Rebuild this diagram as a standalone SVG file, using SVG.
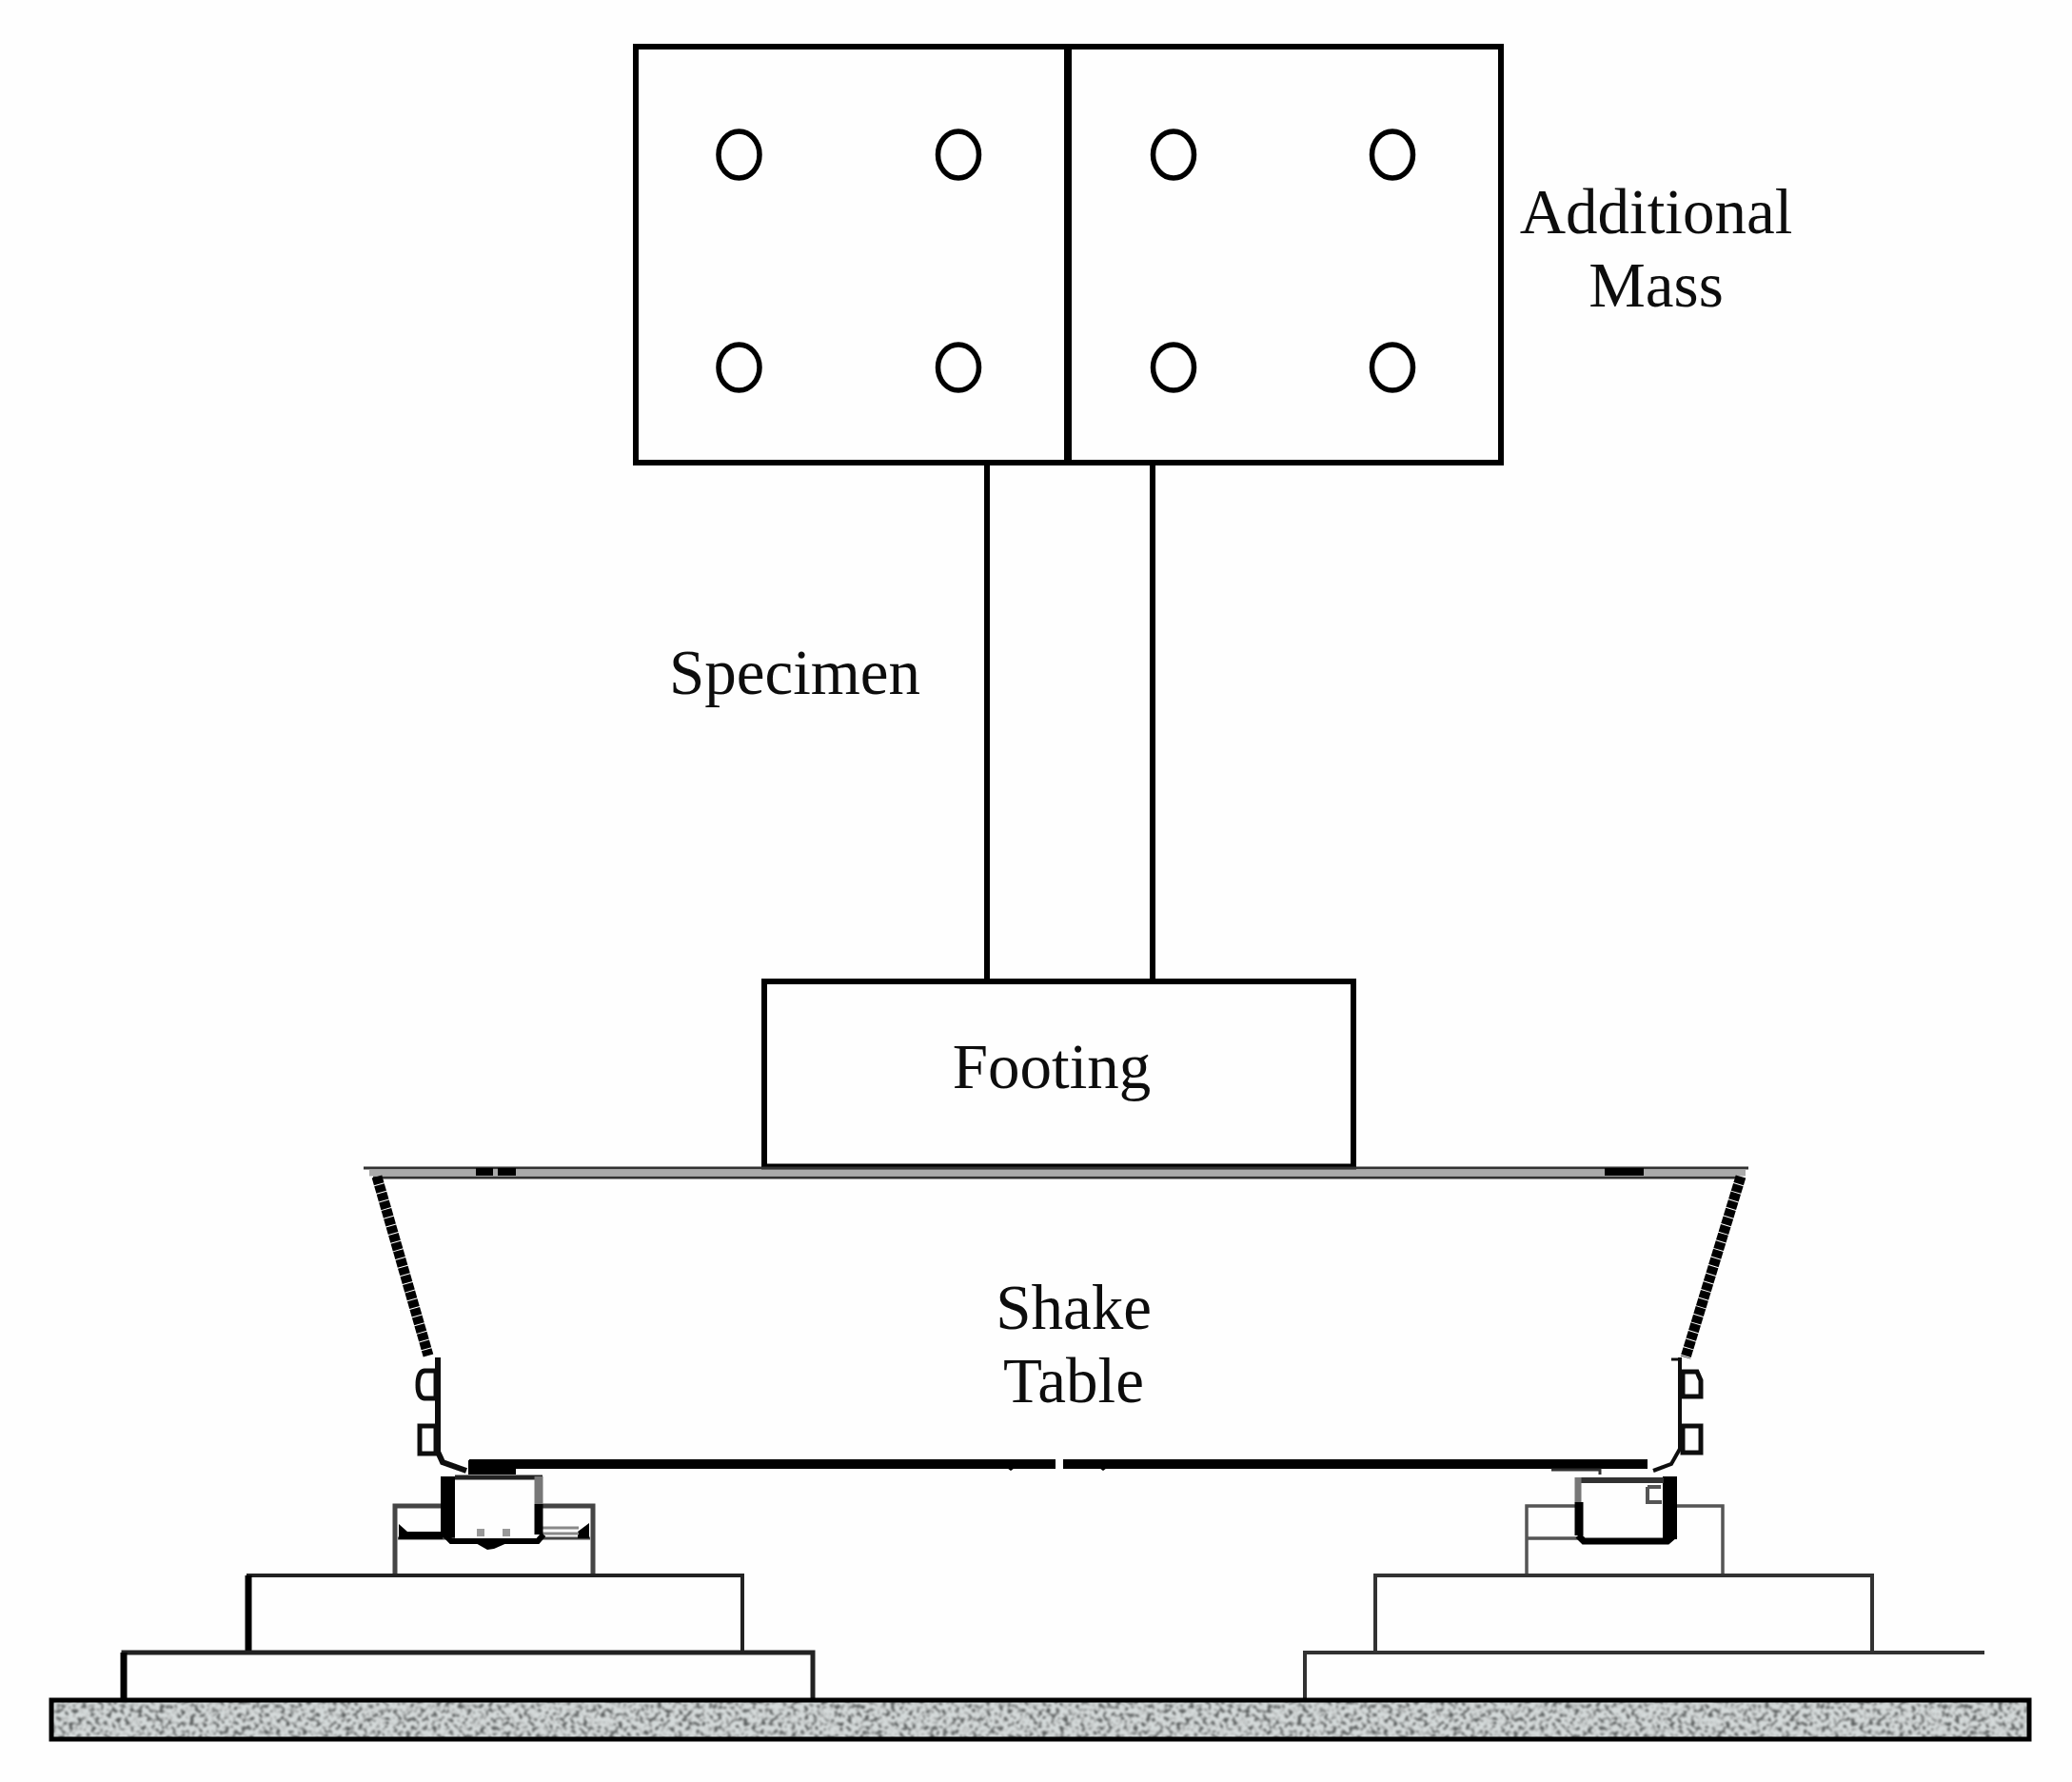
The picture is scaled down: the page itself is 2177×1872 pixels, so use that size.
<svg xmlns="http://www.w3.org/2000/svg" width="2177" height="1872" viewBox="0 0 2177 1872">
<style>
.l{fill:none;stroke:#000;stroke-width:6}
.t{fill:none;stroke:#444;stroke-width:5}
.g{fill:none;stroke:#333;stroke-width:3}
.k{fill:none;stroke:#000;stroke-linecap:butt}
.b{fill:#000}
.h{fill:none;stroke:#000;stroke-width:5.500}
text{font-family:"Liberation Serif","Times New Roman",serif;font-size:67px;fill:#111;text-anchor:middle}
</style>
<defs>
<filter id="grain" x="0" y="0" width="100%" height="100%" color-interpolation-filters="sRGB">
<feTurbulence type="fractalNoise" baseFrequency="0.22" numOctaves="3" seed="7"/>
<feColorMatrix type="matrix" values="0 0 0 0 0  0 0 0 0 0  0 0 0 0 0  3.500 0 0 0 -1.350" result="n"/>
<feFlood flood-color="#d4dada"/>
<feComposite in2="n" operator="out" result="light"/>
<feFlood flood-color="#5c6060"/>
<feComposite in2="n" operator="in"/>
<feComposite in="light" operator="over"/>
<feGaussianBlur stdDeviation="0.9"/>
</filter>
<filter id="soft" x="-2%" y="-2%" width="104%" height="104%"><feGaussianBlur stdDeviation="0.7"/></filter>
</defs>
<rect width="2177" height="1872" fill="#fefefe"/>
<g filter="url(#soft)">
<g id="connectors">
<path class="l" d="M1037 486V1030M1211 486V1030"/>
</g>
<g id="additional-mass">
<rect x="668" y="49" width="909" height="437" fill="none" stroke="#000" stroke-width="6"/>
<path d="M1122 49V486" fill="none" stroke="#000" stroke-width="8"/>
<g class="h">
<ellipse cx="776.500" cy="162.500" rx="21.500" ry="24.500"/><ellipse cx="1007" cy="162.500" rx="21.500" ry="24.500"/>
<ellipse cx="1233" cy="162.500" rx="21.500" ry="24.500"/><ellipse cx="1463" cy="162.500" rx="21.500" ry="24.500"/>
<ellipse cx="776.500" cy="386" rx="21.500" ry="24"/><ellipse cx="1007" cy="386" rx="21.500" ry="24"/>
<ellipse cx="1233" cy="386" rx="21.500" ry="24"/><ellipse cx="1463" cy="386" rx="21.500" ry="24"/>
</g>
<text x="1740" y="245">Additional</text>
<text x="1740" y="322">Mass</text>
</g>
<g id="specimen"><text x="835" y="729">Specimen</text></g>
<g id="footing">
<path d="M803 1229V1031H1422V1229" fill="none" stroke="#000" stroke-width="6"/>
<path d="M803 1226H1422" fill="none" stroke="#000" stroke-width="7"/>
<text x="1105" y="1143">Footing</text>
</g>
<g id="shake-table">
<path class="g" d="M382 1227H1837M392 1237H1826"/>
<path d="M388 1232H1834" fill="none" stroke="#aaa" stroke-width="7"/>
<path class="k" stroke-width="8" d="M500 1231H518M523 1231H542M1686 1231H1727"/>
<path class="k" stroke-width="11" stroke-dasharray="8 1" d="M396 1236L450 1424"/>
<path class="k" stroke-width="11" stroke-dasharray="8 1" d="M1829 1236L1771 1426"/>
<path class="g" style="stroke-width:6;stroke:#111" d="M460 1426V1525L465 1536 L490 1545"/>
<path class="g" style="stroke-width:4;stroke:#111" d="M1765 1426V1522L1756 1538 1737 1545"/>
<path d="M1756 1428H1766" fill="none" stroke="#111" stroke-width="3"/>
<g fill="none" stroke="#111" stroke-width="5">
<path d="M458 1440H446Q439 1441 439 1455Q439 1468 446 1469H458ZM458 1498H441V1527H458Z"/>
<path d="M1768 1441H1783L1787 1450V1467H1768ZM1768 1498H1787V1526H1768Z"/>
</g>
<path class="k" stroke-width="10" d="M493 1538H1109M1117 1538H1731"/>
<rect class="b" x="492" y="1534" width="50" height="15"/>
<path class="b" d="M1055 1540h14l-7 5zM1152 1540h14l-7 5z"/>
<path class="g" d="M1630 1544H1681V1549"/>
<text x="1128" y="1396">Shake</text>
<text x="1128" y="1473">Table</text>
</g>
<g id="left-support">
<path class="t" d="M415 1654V1582H623V1654" />
<path d="M418 1616H620" fill="none" stroke="#444" stroke-width="3"/>
<path d="M419 1601l9 8h37v8h-46zM619 1600l-12 9v7h12z" fill="#000"/>
<path d="M570 1605H608M570 1611H608" fill="none" stroke="#888" stroke-width="3"/>
<rect x="478" y="1553" width="90" height="64" fill="#fefefe"/>
<rect class="b" x="463" y="1551" width="15" height="64"/>
<path d="M570 1552H478" fill="none" stroke="#222" stroke-width="5"/>
<path d="M566 1551V1580" fill="none" stroke="#777" stroke-width="9"/>
<path d="M566 1580V1612" fill="none" stroke="#000" stroke-width="9"/>
<path d="M467 1612L474 1619H565L571 1612" fill="none" stroke="#000" stroke-width="6"/>
<path class="b" d="M498 1620H535L519 1627 512 1628z"/>
<path d="M505 1614V1606M532 1614V1606" fill="none" stroke="#999" stroke-width="8"/>
</g>
<g id="right-support">
<path d="M1604 1655V1582H1655M1761 1582H1810V1655M1604 1616H1658" fill="none" stroke="#555" stroke-width="3.500"/>
<rect x="1664" y="1558" width="84" height="58" fill="#fefefe"/>
<rect class="b" x="1747" y="1551" width="15" height="66"/>
<path d="M1655 1555H1748" fill="none" stroke="#333" stroke-width="6"/>
<path d="M1658 1552V1578" fill="none" stroke="#777" stroke-width="7"/>
<path d="M1659 1578V1613" fill="none" stroke="#000" stroke-width="9"/>
<path d="M1658 1613L1664 1619H1752L1760 1612" fill="none" stroke="#000" stroke-width="7"/>
<path d="M1731 1562V1578H1746M1731 1562H1745" fill="none" stroke="#555" stroke-width="4"/>
</g>
<g id="left-base">
<path d="M261 1736V1655H780V1736" fill="none" stroke="#222" stroke-width="4"/>
<path d="M261 1736V1655" fill="none" stroke="#000" stroke-width="7"/>
<path d="M130 1788V1736H854V1788" fill="none" stroke="#222" stroke-width="5"/>
<path d="M130 1788V1736" fill="none" stroke="#000" stroke-width="7"/>
</g>
<g id="right-base">
<path d="M1445 1736V1655H1967V1736" fill="none" stroke="#333" stroke-width="4"/>
<path d="M1371 1788V1736H2085" fill="none" stroke="#333" stroke-width="4"/>
</g>
<g id="ground">
<rect x="54" y="1786" width="2078" height="41" fill="#b4b8b8" filter="url(#grain)"/>
<rect x="54" y="1786" width="2078" height="41" fill="none" stroke="#000" stroke-width="5"/>
</g>
</g>
</svg>
